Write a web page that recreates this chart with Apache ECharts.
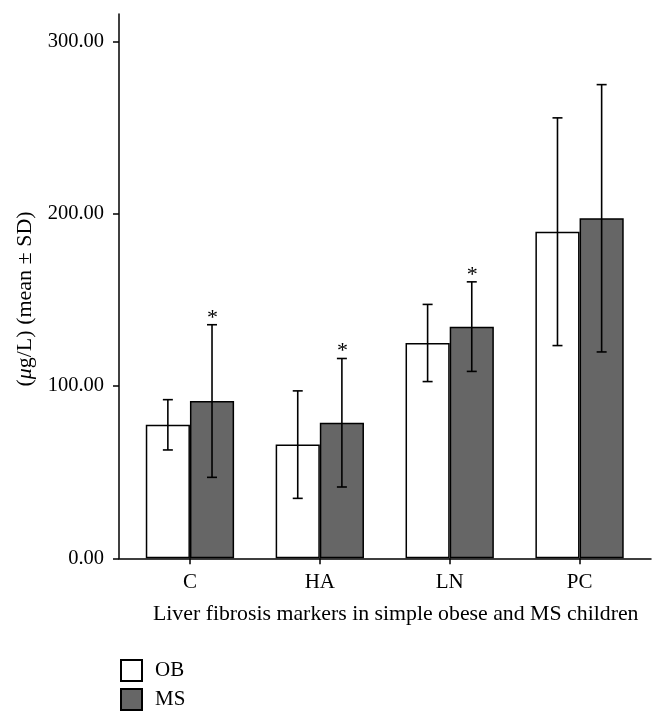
<!DOCTYPE html>
<html>
<head>
<meta charset="utf-8">
<script src="https://cdn.jsdelivr.net/npm/echarts@6/dist/echarts.min.js"></script>
<style>
html,body{margin:0;padding:0;background:#fff;}
#main{width:665px;height:721px;}
</style>
</head>
<body>
<div id="main"></div>
<script>
// ---- data ----
const categories = ['C', 'HA', 'LN', 'PC'];
const obMean = [77.5, 66.0, 125.0, 189.6];
const obSD = [14.6, 31.2, 22.4, 66.1];
const msMean = [91.3, 78.7, 134.5, 197.4];
const msSD = [44.3, 37.3, 26.0, 77.6];
const msSig = ['*', '*', '*', ''];
const yTicks = [0, 100, 200, 300];
const yMax = 316;

const FONT = 'Liberation Serif';
const chart = echarts.init(document.getElementById('main'));

function errorSeries(name, means, sds, side, sig) {
  return {
    type: 'custom',
    name: name + ' SD',
    xAxisIndex: 0,
    yAxisIndex: 0,
    z: 10,
    silent: true,
    encode: { x: 0, y: 1 },
    data: means.map((m, i) => [i, m, sds[i]]),
    renderItem: function (params, api) {
      const i = api.value(0), m = api.value(1), s = api.value(2);
      const band = api.size([1, 0])[0];
      const off = side * band * 0.68 / 4;
      const top = api.coord([i, m + s]);
      const bot = api.coord([i, m - s]);
      const x = top[0] + off;
      const cap = 5;
      const st = { stroke: '#000', lineWidth: 1.6 };
      const children = [
        { type: 'line', shape: { x1: x, y1: top[1], x2: x, y2: bot[1] }, style: st },
        { type: 'line', shape: { x1: x - cap, y1: top[1], x2: x + cap, y2: top[1] }, style: st },
        { type: 'line', shape: { x1: x - cap, y1: bot[1], x2: x + cap, y2: bot[1] }, style: st }
      ];
      if (sig && sig[params.dataIndex]) {
        children.push({
          type: 'text',
          style: {
            text: sig[params.dataIndex], x: x + 0.5, y: top[1] + 4,
            textAlign: 'center', textVerticalAlign: 'bottom',
            font: '22px "' + FONT + '"', fill: '#000'
          }
        });
      }
      return { type: 'group', children: children };
    }
  };
}

const option = {
  backgroundColor: '#fff',
  animation: false,
  textStyle: { fontFamily: FONT },
  title: {
    text: 'Liver fibrosis markers in simple obese and MS children',
    left: 153, top: 603, padding: 0,
    textStyle: { fontFamily: FONT, fontSize: 21.8, fontWeight: 'normal', color: '#000' }
  },
  legend: {
    data: ['OB', 'MS'],
    orient: 'vertical',
    left: 120, top: 659,
    padding: 0,
    itemWidth: 21, itemHeight: 21, itemGap: 6,
    icon: 'rect',
    textStyle: { fontFamily: FONT, fontSize: 21, color: '#000', padding: [0, 0, 0, 8] }
  },
  graphic: [{
    type: 'text',
    x: 25, y: 299,
    rotation: Math.PI / 2,
    style: {
      text: '({i|μ}g/L) (mean ± SD)',
      font: '22px "' + FONT + '"',
      fill: '#000',
      textAlign: 'center', textVerticalAlign: 'middle',
      rich: { i: { fontStyle: 'italic', fontFamily: FONT, fontSize: 22 } }
    }
  }],
  grid: [
    { left: 125, right: 20.5, top: 14, bottom: 162.7 },
    { left: 119, right: 14, top: 14, bottom: 162.7 }
  ],
  xAxis: [
    {
      type: 'category', gridIndex: 0, data: categories,
      axisLine: { show: false },
      axisTick: { show: true, alignWithLabel: true, length: 6, lineStyle: { color: '#000', width: 1.5 } },
      axisLabel: { color: '#000', fontFamily: FONT, fontSize: 21, margin: 14 },
      splitLine: { show: false }
    },
    {
      type: 'category', gridIndex: 1, data: [''],
      axisLine: { show: true, lineStyle: { color: '#000', width: 1.5 } },
      axisTick: { show: false },
      axisLabel: { show: false },
      splitLine: { show: false }
    }
  ],
  yAxis: [
    { type: 'value', gridIndex: 0, min: 0, max: yMax, show: false, splitLine: { show: false } },
    {
      type: 'value', gridIndex: 1, min: 0, max: yMax,
      axisLine: { show: true, lineStyle: { color: '#000', width: 1.5 } },
      axisTick: { show: true, length: 6, customValues: yTicks, lineStyle: { color: '#000', width: 1.5 } },
      axisLabel: {
        color: '#000', fontFamily: FONT, fontSize: 20.5, margin: 15,
        customValues: yTicks,
        formatter: v => Number(v).toFixed(2)
      },
      splitLine: { show: false }
    }
  ],
  series: [
    {
      name: 'OB', type: 'bar', xAxisIndex: 0, yAxisIndex: 0,
      data: obMean, barGap: '0%', barCategoryGap: '32%',
      itemStyle: { color: '#ffffff', borderColor: '#000', borderWidth: 1.5 }
    },
    {
      name: 'MS', type: 'bar', xAxisIndex: 0, yAxisIndex: 0,
      data: msMean, barGap: '0%', barCategoryGap: '32%',
      itemStyle: { color: '#666666', borderColor: '#000', borderWidth: 1.5 }
    },
    errorSeries('OB', obMean, obSD, -1, null),
    errorSeries('MS', msMean, msSD, 1, msSig)
  ]
};
chart.setOption(option);
</script>
</body>
</html>
